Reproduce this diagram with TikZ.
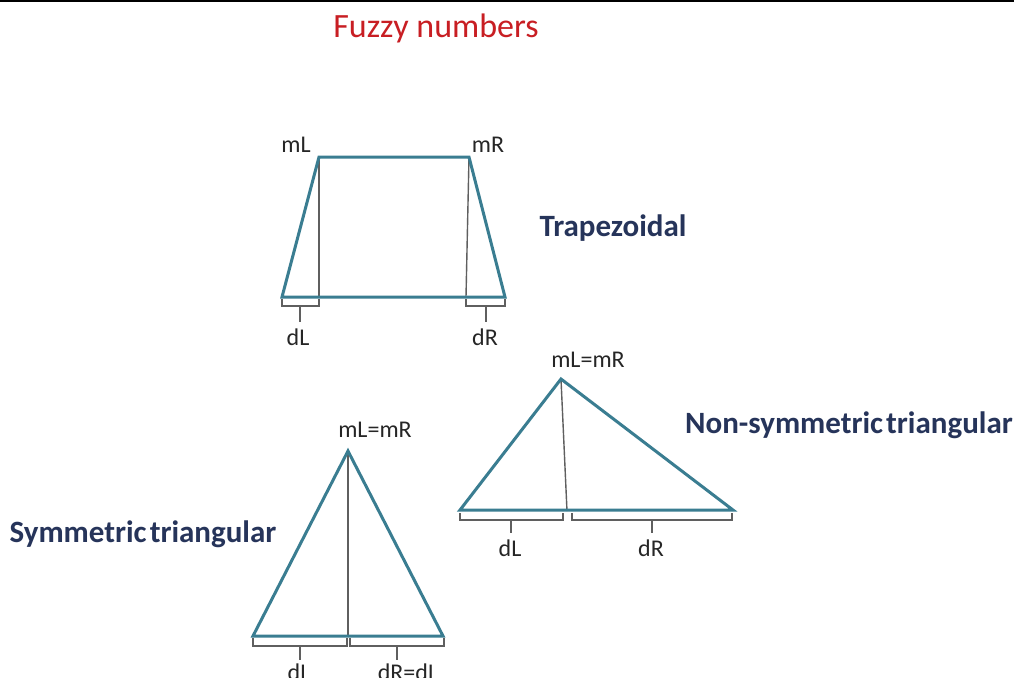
\documentclass[tikz,border=0pt]{standalone}
\usepackage{fontspec}
\setmainfont{Carlito}
\definecolor{teal1}{RGB}{58,125,145}
\definecolor{navy1}{RGB}{38,52,90}
\definecolor{red1}{RGB}{200,30,35}
\definecolor{gray1}{RGB}{95,95,95}
\begin{document}
\begin{tikzpicture}[x=0.5pt,y=-0.5pt,
  shapeline/.style={draw=teal1,line width=1.5pt,line join=miter},
  guide/.style={draw=gray1,line width=0.7pt},
  brk/.style={draw=gray1,line width=0.9pt},
  small/.style={font=\fontsize{12}{14}\selectfont,text=black!85,inner sep=0pt},
  kind/.style={font=\fontsize{15.5}{18}\selectfont\bfseries,text=navy1,inner sep=0pt},
  title/.style={font=\fontsize{17}{20}\selectfont,text=red1,inner sep=0pt}]
\clip (0,0) rectangle (1014,677);
\fill[white] (0,0) rectangle (1014,677);
\draw[black,line width=1.2pt] (0,1) -- (1014,1);
\node[title] (t) at (436,28) {Fuzzy numbers};
% Trapezoid
\coordinate (a1) at (282,297); \coordinate (a2) at (319,157);
\coordinate (a3) at (469,157); \coordinate (a4) at (505,297);
\draw[guide] (319,157) -- (319,297);
\draw[guide] (469,157) -- (466,297);
\draw[shapeline] (a1) -- (a2) -- (a3) -- (a4) -- cycle;
\draw[brk] (282,299) -- (282,306) -- (319,306) -- (319,299);
\draw[brk] (300,306) -- (300,322);
\draw[brk] (466,299) -- (466,306) -- (505,306) -- (505,299);
\draw[brk] (486,306) -- (486,322);
\node[small] (mL1) at (296,145) {mL};
\node[small] (mR1) at (488,145) {mR};
\node[small] (dL1) at (298,337) {dL};
\node[small] (dR1) at (485,337) {dR};
\node[kind] (k1) at (613,228) {Trapezoidal};
% Non-symmetric triangle
\coordinate (b1) at (460,510); \coordinate (b2) at (561,379); \coordinate (b3) at (733,510);
\draw[guide] (561,379) -- (567,511);
\draw[shapeline] (b1) -- (b2) -- (b3) -- cycle;
\draw[brk] (460,513) -- (460,520) -- (563,520) -- (563,513);
\draw[brk] (511,520) -- (511,533);
\draw[brk] (572,513) -- (572,520) -- (732,520) -- (732,513);
\draw[brk] (652,520) -- (652,533);
\node[small] (mm2) at (588,360) {mL=mR};
\node[small] (dL2) at (510,548) {dL};
\node[small] (dR2) at (651,548) {dR};
\node[kind] (k2) at (849,425) {Non-symmetric\hspace{0.1em}triangular};
% Symmetric triangle
\coordinate (c1) at (253,636); \coordinate (c2) at (348,451); \coordinate (c3) at (443,636);
\draw[guide] (348,451) -- (348,637);
\draw[shapeline] (c1) -- (c2) -- (c3) -- cycle;
\draw[brk] (253,638) -- (253,646) -- (347,646) -- (347,638);
\draw[brk] (300,646) -- (300,660);
\draw[brk] (350,638) -- (350,646) -- (444,646) -- (444,638);
\draw[brk] (397,646) -- (397,660);
\node[small] (mm3) at (375,430) {mL=mR};
\node[small] (dL3) at (299,672) {dL};
\node[small] (dR3) at (408,672) {dR=dL};
\node[kind] (k3) at (143,534) {Symmetric\hspace{0.1em}triangular};
\end{tikzpicture}
\end{document}
